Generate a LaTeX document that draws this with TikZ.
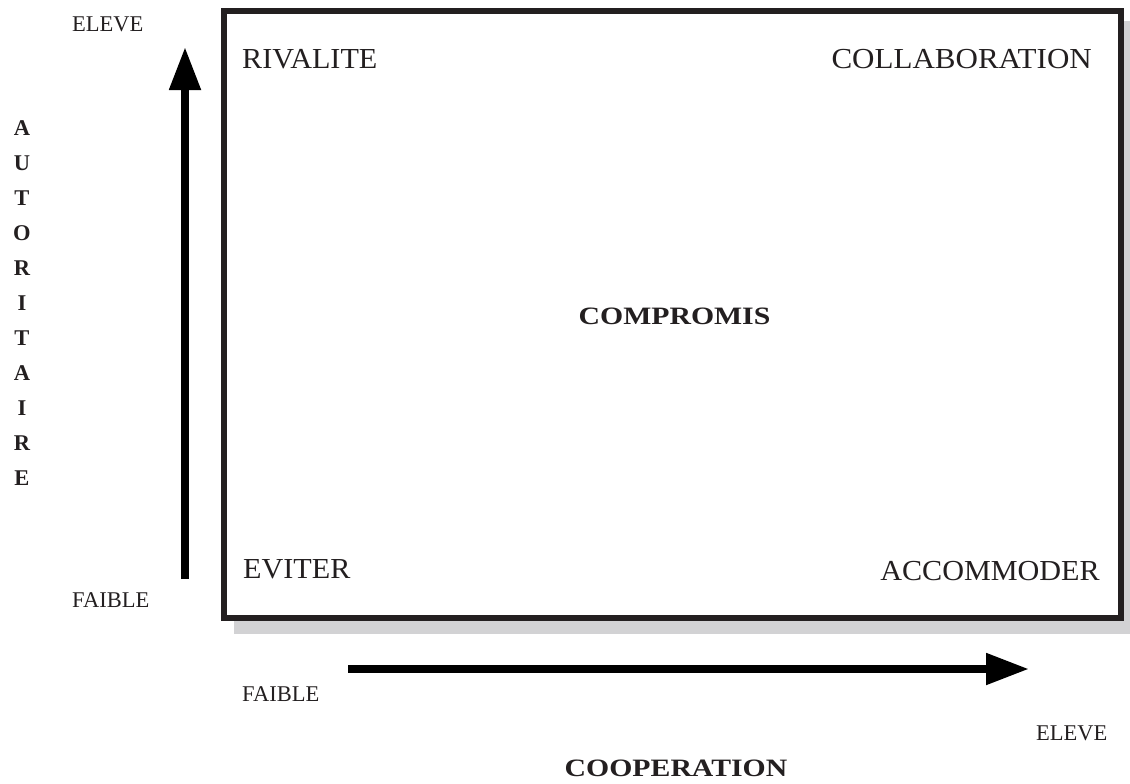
\documentclass[tikz,border=0pt]{standalone}
\usepackage{fontspec}
\setmainfont{Liberation Serif}
\usetikzlibrary{arrows.meta,backgrounds}
\definecolor{ink}{RGB}{35,31,32}
\definecolor{shadowgray}{RGB}{210,210,212}
\tikzset{
  bigtxt/.style={inner sep=0pt, text=ink, font=\fontsize{29}{34}\selectfont\addfontfeature{FakeStretch=1.04}},
  collabtxt/.style={inner sep=0pt, text=ink, font=\fontsize{29}{34}\selectfont\addfontfeature{FakeStretch=1.07}},
  smalltxt/.style={inner sep=0pt, text=ink, font=\fontsize{22.5}{27}\selectfont},
  boldtxt/.style={inner sep=0pt, text=ink, font=\fontsize{25}{30}\selectfont\bfseries\addfontfeature{FakeStretch=1.19}},
  vlettertxt/.style={inner sep=0pt, text=ink, anchor=base, font=\fontsize{22.5}{26}\selectfont\bfseries},
  framebox/.style={draw=ink, line width=6pt, fill=white, minimum width=897pt, minimum height=607pt, inner sep=0pt},
  axisarrow/.style={line width=8pt, draw=black, -{Triangle[length=43pt,width=30pt]}},
}
\begin{document}
\begin{tikzpicture}[x=1pt,y=-1pt]
\useasboundingbox (0,0) rectangle (1130,784);
% frame
\node[framebox] (box) at (672.5,314.5) {};
\begin{pgfonlayer}{background}
\fill[shadowgray] ([xshift=13pt,yshift=-13pt]box.north west) rectangle ([xshift=13pt,yshift=-13pt]box.south east);
\end{pgfonlayer}
% axes
\coordinate (vstart) at (185,579);
\coordinate (vend) at (185,47);
\draw[axisarrow] (vstart) -- (vend);
\coordinate (hstart) at (348,669);
\coordinate (hend) at (1029,669);
\draw[axisarrow] (hstart) -- (hend);
% quadrant labels
\node[bigtxt, anchor=base west] (rival) at (242,69) {RIVALITE};
\node[collabtxt, anchor=base east] (collab) at (1092,69) {COLLABORATION};
\node[boldtxt, anchor=base] (compro) at (674.5,324) {COMPROMIS};
\node[bigtxt, anchor=base west] (eviter) at (243,578) {EVITER};
\node[bigtxt, anchor=base east] (accom) at (1100,580) {ACCOMMODER};
% axis labels
\node[smalltxt, anchor=base west] (elevetop) at (72,32) {ELEVE};
\node[smalltxt, anchor=base west] (faibleleft) at (72,607) {FAIBLE};
\node[smalltxt, anchor=base west] (faiblebot) at (242,701) {FAIBLE};
\node[smalltxt, anchor=base west] (elevebot) at (1036,740) {ELEVE};
\node[boldtxt, anchor=base] (coop) at (676,776) {COOPERATION};
\foreach \letter [count=\i] in {A,U,T,O,R,I,T,A,I,R,E}{
  \node[vlettertxt] (aut\i) at (22,{135+35*(\i-1)}) {\letter};
}
\end{tikzpicture}
\end{document}
